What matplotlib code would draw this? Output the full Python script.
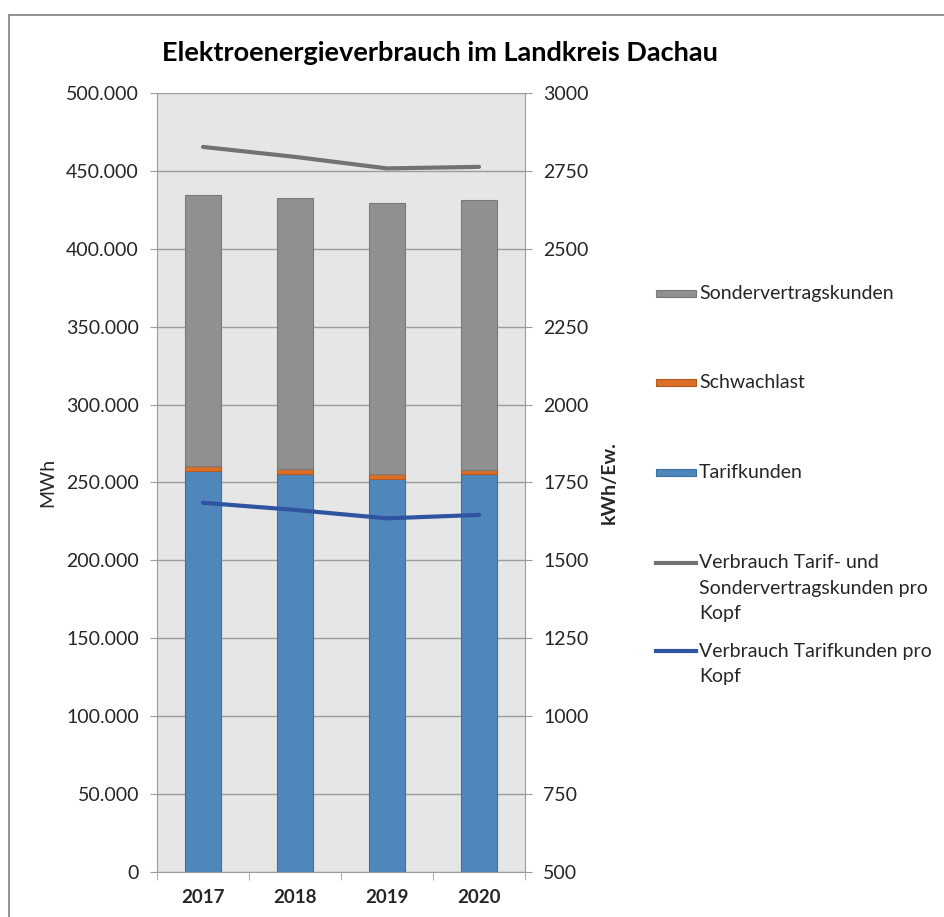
import matplotlib; matplotlib.use("Agg")
import matplotlib.pyplot as plt
from matplotlib.lines import Line2D
from matplotlib.patches import Rectangle
from matplotlib.ticker import FuncFormatter, MultipleLocator, FixedLocator

# data
years = ["2017", "2018", "2019", "2020"]
tarif = [257400, 255500, 252400, 255300]          # MWh
schwachlast = [3200, 3200, 3200, 2500]            # MWh
sonder = [173900, 173900, 173600, 173300]         # MWh
pk_gesamt = [2827, 2795, 2758, 2763]              # kWh/Ew.
pk_tarif = [1685, 1662, 1635, 1646]               # kWh/Ew.

FONT = ["Lato", "DejaVu Sans"]
plt.rcParams["font.family"] = FONT
INK = "#262626"
GRID = "#9c9c9c"
C_SON, C_SCH, C_TAR = "#909090", "#d9702a", "#4f87bd"
E_SON, E_SCH, E_TAR = "#7a7a7a", "#b55a1c", "#3d6f9f"
L_GES, L_TAR = "#767171", "#2f55a0"
FS = 14

W, H = 944, 917
fig = plt.figure(figsize=(W / 100, H / 100), dpi=100)

def fx(px): return px / W
def fy(py): return 1 - py / H

# outer chart frame (top + left only visible)
fig.add_artist(Line2D([fx(9), 1], [fy(14.5), fy(14.5)], color="#8a8a8a", lw=1.3))
fig.add_artist(Line2D([fx(9), fx(9)], [fy(14.5), 0], color="#8a8a8a", lw=1.3))

ax = fig.add_axes([fx(157), fy(872), (525 - 157) / W, (872 - 93) / H])
ax.set_facecolor("#e6e6e6")
x = range(len(years))
bw = 0.40
ax.bar(x, tarif, bw, color=C_TAR, edgecolor=E_TAR, lw=0.8, zorder=3)
ax.bar(x, schwachlast, bw, bottom=tarif, color=C_SCH, edgecolor=E_SCH, lw=0.8, zorder=3)
bot3 = [a + b for a, b in zip(tarif, schwachlast)]
ax.bar(x, sonder, bw, bottom=bot3, color=C_SON, edgecolor=E_SON, lw=0.8, zorder=3)

ax.set_ylim(0, 500000)
ax.set_xlim(-0.5, len(years) - 0.5)
ax.yaxis.set_major_locator(MultipleLocator(50000))
ax.yaxis.set_major_formatter(FuncFormatter(lambda v, p: f"{int(v):,}".replace(",", ".")))
ax.grid(axis="y", color=GRID, lw=1.0, zorder=0)
ax.set_axisbelow(True)
for s in ["left", "right", "bottom"]:
    ax.spines[s].set_color(GRID)
ax.spines["top"].set_visible(False)
ax.tick_params(axis="y", length=5, color=GRID, labelsize=FS, labelcolor=INK, pad=8)
ax.set_xticks(list(x))
ax.set_xticklabels(years, fontweight="bold", fontsize=13.5, color=INK)
ax.xaxis.set_minor_locator(FixedLocator([i - 0.5 for i in range(len(years) + 1)]))
ax.tick_params(axis="x", which="major", length=0, pad=12)
ax.tick_params(axis="x", which="minor", length=6, color=GRID)
ax.set_ylabel("MWh", fontsize=FS, color=INK)
ax.yaxis.set_label_coords(-0.274, 0.5)

ax2 = ax.twinx()
ax2.plot(x, pk_gesamt, color=L_GES, lw=3.0, solid_capstyle="round", zorder=4)
ax2.plot(x, pk_tarif, color=L_TAR, lw=3.0, solid_capstyle="round", zorder=4)
ax2.set_ylim(500, 3000)
ax2.yaxis.set_major_locator(MultipleLocator(250))
for s in ["left", "right", "bottom", "top"]:
    ax2.spines[s].set_visible(False)
ax2.tick_params(axis="y", length=5, color=GRID, labelsize=FS, labelcolor=INK, pad=8)
ax2.set_ylabel("kWh/Ew.", fontsize=FS, fontweight="bold", color=INK)
ax2.yaxis.set_label_coords(1.205, 0.5)

fig.text(fx(440), fy(53), "Elektroenergieverbrauch im Landkreis Dachau",
         ha="center", va="center", fontsize=19.5, fontweight="bold", color="black")

# legend, drawn by hand to follow the spread-out layout
patch_entries = [(293, "Sondervertragskunden", C_SON, E_SON),
                 (382, "Schwachlast", C_SCH, E_SCH),
                 (472, "Tarifkunden", C_TAR, E_TAR)]
for yy, lab, fc, ec in patch_entries:
    fig.add_artist(Rectangle((fx(656), fy(yy + 3.5)), 40 / W, 7 / H, fc=fc, ec=ec, lw=0.8))
    fig.text(fx(699), fy(yy), lab, va="center", fontsize=FS, color=INK)
line_entries = [(563, ["Verbrauch Tarif- und", "Sondervertragskunden pro", "Kopf"], L_GES),
                (651, ["Verbrauch Tarifkunden pro", "Kopf"], L_TAR)]
for yy, lines, col in line_entries:
    fig.add_artist(Line2D([fx(656), fx(696)], [fy(yy), fy(yy)], color=col, lw=3.0))
    for k, t in enumerate(lines):
        fig.text(fx(699), fy(yy + k * 25.5), t, va="center", fontsize=FS, color=INK)

fig.savefig("out.png", dpi=100)
